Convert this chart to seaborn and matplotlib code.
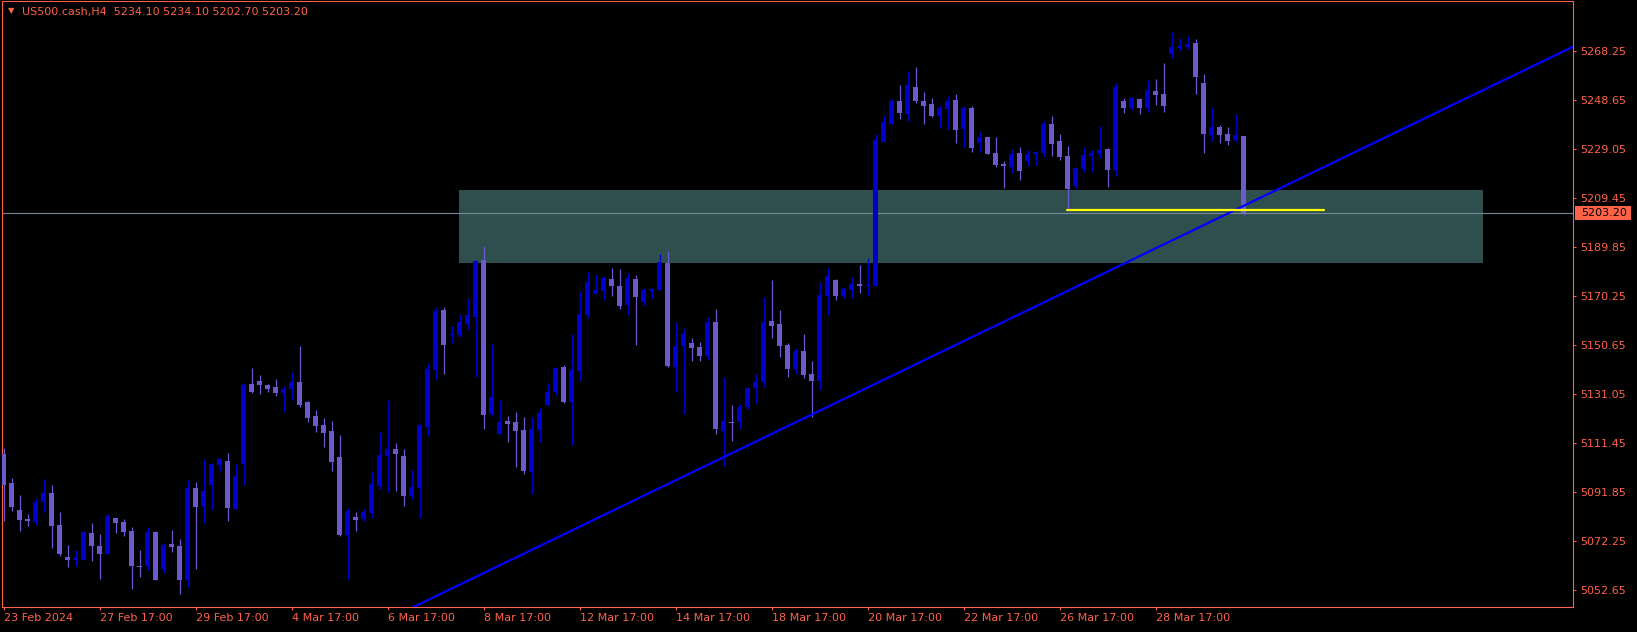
import numpy as np
import pandas as pd
import seaborn as sns
import matplotlib.pyplot as plt
from matplotlib.patches import Rectangle

# H4 candles, bar index 0 = first bar on the chart
opens = [5106.9, 5095.3, 5084.5, 5080.9, 5079.9, 5087.8, 5091.3, 5078.5, 5065.7, 5064.7,
         5064.7, 5075.3, 5070.1, 5067.0, 5081.3, 5079.7, 5076.1, 5062.3, 5062.3, 5075.7,
         5061.1, 5070.9, 5070.1, 5056.7, 5093.3, 5086.3, 5094.5, 5102.5, 5104.1, 5084.9,
         5103.1, 5134.9, 5136.1, 5134.5, 5133.7, 5131.3, 5132.9, 5135.7, 5127.7, 5122.1,
         5118.5, 5116.1, 5105.7, 5074.5, 5081.7, 5080.9, 5083.5, 5094.3, 5106.3, 5108.8,
         5106.1, 5090.3, 5093.5, 5117.9, 5140.7, 5164.5, 5154.4, 5154.7, 5159.1, 5161.9,
         5184.4, 5123.0, 5115.1, 5120.1, 5119.7, 5116.5, 5099.9, 5116.7, 5126.5, 5131.9,
         5141.7, 5127.9, 5140.3, 5162.7, 5171.1, 5172.3, 5176.9, 5174.1, 5166.7, 5176.9,
         5167.9, 5172.1, 5172.7, 5183.3, 5141.7, 5150.1, 5151.3, 5149.7, 5146.1, 5159.7,
         5116.1, 5119.9, 5119.9, 5125.7, 5133.5, 5135.9, 5160.1, 5158.9, 5150.5, 5141.1,
         5148.1, 5138.9, 5136.3, 5170.3, 5176.5, 5170.3, 5172.7, 5174.9, 5174.3, 5174.3,
         5231.7, 5238.9, 5248.1, 5243.1, 5253.7, 5248.1, 5246.9, 5242.1, 5244.9, 5248.5,
         5236.9, 5245.3, 5231.3, 5233.7, 5227.3, 5222.9, 5221.7, 5227.3, 5224.1, 5227.1,
         5227.3, 5238.9, 5232.1, 5226.1, 5214.1, 5221.1, 5226.3, 5226.9, 5228.9, 5220.5,
         5248.1, 5245.3, 5248.9, 5245.3, 5252.1, 5250.9, 5266.9, 5269.3, 5269.9, 5271.3,
         5255.3, 5234.5, 5237.7, 5234.9, 5232.5, 5234.1]
highs = [5109.2, 5097.3, 5090.5, 5083.0, 5089.3, 5096.9, 5094.5, 5083.7, 5070.5, 5068.5,
         5076.1, 5079.3, 5074.9, 5082.9, 5081.3, 5080.9, 5077.7, 5068.5, 5077.7, 5076.1,
         5071.3, 5076.5, 5072.9, 5096.5, 5095.7, 5104.9, 5103.2, 5105.3, 5107.3, 5102.9,
         5135.3, 5141.3, 5138.5, 5134.9, 5136.9, 5134.1, 5139.7, 5150.1, 5128.1, 5124.5,
         5121.3, 5120.1, 5114.5, 5085.3, 5083.7, 5084.9, 5099.7, 5115.8, 5128.5, 5111.3,
         5108.9, 5100.5, 5118.9, 5143.5, 5165.7, 5165.7, 5158.0, 5162.8, 5169.3, 5184.5,
         5190.0, 5150.9, 5128.5, 5122.1, 5123.7, 5121.7, 5121.7, 5125.3, 5135.3, 5141.9,
         5142.5, 5154.9, 5172.0, 5179.7, 5178.5, 5178.1, 5181.3, 5180.9, 5179.3, 5178.5,
         5173.3, 5173.3, 5187.0, 5188.0, 5159.7, 5157.3, 5153.3, 5151.7, 5161.7, 5164.9,
         5137.7, 5126.5, 5127.1, 5133.9, 5138.9, 5169.7, 5176.5, 5164.5, 5151.3, 5149.3,
         5154.9, 5144.1, 5175.7, 5181.3, 5176.9, 5173.7, 5177.7, 5182.5, 5185.3, 5234.9,
         5242.5, 5248.9, 5254.5, 5260.1, 5261.7, 5251.7, 5249.3, 5246.5, 5250.1, 5250.9,
         5246.1, 5246.1, 5235.7, 5233.7, 5233.7, 5224.1, 5228.5, 5229.7, 5228.5, 5228.1,
         5240.1, 5242.1, 5234.9, 5230.1, 5221.3, 5229.7, 5228.5, 5238.1, 5229.3, 5255.3,
         5249.3, 5249.7, 5249.3, 5256.5, 5256.9, 5263.3, 5275.7, 5273.3, 5274.1, 5272.9,
         5258.9, 5245.7, 5238.5, 5237.7, 5242.9, 5234.1]
lows = [5080.3, 5084.3, 5076.3, 5078.3, 5078.7, 5083.9, 5069.5, 5066.3, 5061.9, 5062.3,
        5064.5, 5064.3, 5057.1, 5066.8, 5075.5, 5074.3, 5053.1, 5057.9, 5060.7, 5056.7,
        5059.5, 5067.9, 5051.1, 5053.9, 5061.1, 5079.5, 5084.5, 5100.3, 5080.1, 5084.9,
        5094.5, 5131.3, 5131.1, 5131.7, 5130.1, 5123.7, 5128.5, 5125.7, 5119.7, 5115.7,
        5109.7, 5100.1, 5074.1, 5057.0, 5076.3, 5080.1, 5081.3, 5092.9, 5091.6, 5092.3,
        5086.3, 5088.9, 5081.5, 5114.3, 5136.8, 5139.1, 5151.5, 5153.6, 5157.0, 5137.9,
        5116.9, 5122.3, 5115.1, 5111.7, 5101.7, 5098.9, 5091.1, 5111.9, 5126.3, 5130.7,
        5127.5, 5110.7, 5136.3, 5161.5, 5171.1, 5168.7, 5170.3, 5165.1, 5162.7, 5150.7,
        5166.7, 5169.1, 5172.7, 5141.7, 5131.7, 5122.9, 5144.1, 5144.1, 5144.5, 5115.1,
        5102.0, 5112.0, 5116.9, 5124.9, 5127.3, 5133.9, 5153.5, 5145.9, 5137.9, 5139.1,
        5137.5, 5121.9, 5132.7, 5162.5, 5168.7, 5169.5, 5169.5, 5171.5, 5170.3, 5174.3,
        5231.7, 5238.9, 5240.9, 5240.1, 5247.3, 5238.9, 5241.7, 5237.3, 5236.9, 5231.3,
        5229.7, 5227.7, 5227.7, 5226.9, 5221.7, 5213.3, 5219.3, 5216.5, 5222.1, 5222.5,
        5225.7, 5226.1, 5224.5, 5204.5, 5213.3, 5219.7, 5219.7, 5225.3, 5213.7, 5218.1,
        5243.3, 5244.5, 5242.9, 5243.7, 5246.5, 5243.7, 5265.3, 5268.1, 5268.9, 5250.9,
        5227.3, 5232.1, 5231.3, 5230.5, 5231.7, 5202.7]
closes = [5094.7, 5085.9, 5080.7, 5080.3, 5087.7, 5091.3, 5078.3, 5067.0, 5064.7, 5065.3,
          5075.7, 5070.3, 5067.0, 5082.1, 5079.5, 5075.9, 5062.3, 5061.9, 5075.7, 5056.7,
          5070.5, 5069.9, 5056.7, 5093.3, 5085.9, 5092.0, 5102.9, 5104.8, 5085.5, 5098.1,
          5134.4, 5131.9, 5134.5, 5132.9, 5131.3, 5132.9, 5135.7, 5126.5, 5121.3, 5118.1,
          5115.3, 5103.7, 5074.5, 5084.1, 5080.7, 5083.7, 5094.9, 5106.5, 5108.8, 5107.1,
          5090.3, 5093.6, 5118.5, 5140.9, 5164.1, 5150.7, 5154.6, 5159.7, 5162.4, 5184.1,
          5122.7, 5129.7, 5119.7, 5119.1, 5116.1, 5100.1, 5116.9, 5123.3, 5131.7, 5141.3,
          5127.9, 5140.5, 5162.9, 5175.7, 5172.5, 5177.3, 5174.3, 5166.3, 5177.3, 5169.9,
          5172.5, 5172.9, 5183.7, 5142.1, 5150.1, 5154.9, 5149.3, 5146.1, 5159.7, 5117.1,
          5120.1, 5119.3, 5125.7, 5133.5, 5135.9, 5159.7, 5158.3, 5150.3, 5141.1, 5148.1,
          5138.7, 5136.3, 5170.5, 5178.1, 5170.3, 5172.9, 5174.9, 5174.3, 5174.5, 5232.5,
          5239.7, 5248.1, 5243.3, 5254.5, 5248.1, 5246.1, 5242.1, 5245.3, 5248.1, 5236.5,
          5245.3, 5229.3, 5233.7, 5226.9, 5222.5, 5222.1, 5226.9, 5220.1, 5226.9, 5227.7,
          5238.9, 5230.9, 5225.7, 5212.9, 5221.2, 5226.5, 5227.3, 5228.5, 5220.5, 5253.7,
          5245.3, 5249.3, 5245.3, 5252.5, 5250.5, 5246.1, 5269.7, 5270.1, 5270.9, 5257.7,
          5234.9, 5237.7, 5234.5, 5232.1, 5234.5, 5203.2]

date_labels = ["23 Feb 2024", "27 Feb 17:00", "29 Feb 17:00", "4 Mar 17:00", "6 Mar 17:00",
               "8 Mar 17:00", "12 Mar 17:00", "14 Mar 17:00", "18 Mar 17:00", "20 Mar 17:00",
               "22 Mar 17:00", "26 Mar 17:00", "28 Mar 17:00"]
date_ticks = [0, 12, 24, 36, 48, 60, 72, 84, 96, 108, 120, 132, 144]
price_ticks = [5052.65, 5072.25, 5091.85, 5111.45, 5131.05, 5150.65, 5170.25,
               5189.85, 5209.45, 5229.05, 5248.65, 5268.25]
last_price = 5203.20
title = "US500.cash,H4  5234.10 5234.10 5202.70 5203.20"

zone_bars = [56.9, 184.9]
zone_prices = [5183.4, 5212.5]
trend_bars = [101, 155]
trend_prices = [5122.7, 5206.2]
level_bars = [132.9, 165]
level_price = 5204.6

ORANGE = "#ff6347"
BULL = "#0000cd"
BEAR = "#6a5acd"

sns.set_style("dark", {"axes.facecolor": "black", "figure.facecolor": "black",
                       "axes.edgecolor": ORANGE, "axes.grid": False})
plt.rcParams['font.family'] = ['DejaVu Sans']

W, H = 1637, 632
fig = plt.figure(figsize=(W / 100, H / 100), dpi=100)
ax = fig.add_axes([2 / W, 25 / H, 1571 / W, 606 / H])

df = pd.DataFrame({"o": opens, "h": highs, "l": lows, "c": closes})
df["x"] = np.arange(len(df))
df["up"] = df["c"] > df["o"]
df["col"] = np.where(df["up"], BULL, BEAR)

# support zone
ax.add_patch(Rectangle((zone_bars[0], zone_prices[0]), zone_bars[1] - zone_bars[0],
                       zone_prices[1] - zone_prices[0], color="#2f4f4f", lw=0, zorder=0))

# current price line
ax.axhline(last_price, color="#778899", lw=0.8, zorder=1)

# candles
ax.vlines(df["x"], df["l"], df["h"], colors=df["col"], lw=0.9, zorder=2)
body_lo = np.minimum(df["o"], df["c"])
body_h = np.maximum((df["c"] - df["o"]).abs(), 0.4)
ax.bar(df["x"], body_h, bottom=body_lo, width=0.62, color=df["col"], lw=0, zorder=3)

# trend line and level
ax.axline((trend_bars[0], trend_prices[0]), (trend_bars[1], trend_prices[1]),
          color="#0000ff", lw=1.6, zorder=4)
sns.lineplot(x=level_bars, y=[level_price, level_price], color="#ffff00", lw=1.6,
             ax=ax, zorder=4)

ax.set_xlim(-0.21, 196.16)
ax.set_ylim(5045.72, 5288.12)

ax.yaxis.tick_right()
ax.set_yticks(price_ticks)
ax.set_yticklabels([f"{p:.2f}" for p in price_ticks])
ax.set_xticks(date_ticks)
ax.set_xticklabels(date_labels, ha="left")
ax.tick_params(axis="y", colors=ORANGE, labelsize=8, length=2.5, width=0.7, pad=3,
               right=True, left=False)
ax.tick_params(axis="x", colors=ORANGE, labelsize=8, length=2.5, width=0.7, pad=1.5,
               bottom=True)
for s in ax.spines.values():
    s.set_color(ORANGE)
    s.set_linewidth(0.8)

# last price marker on the axis
y_px = 1 + (5288.12 - last_price) / (5288.12 - 5045.72) * 606
fig.patches.append(Rectangle((1575 / W, 1 - (y_px + 7) / H), 56 / W, 14 / H,
                             transform=fig.transFigure, color=ORANGE, lw=0))
fig.text(1581 / W, 1 - y_px / H, f"{last_price:.2f}", color="black", fontsize=8,
         va="center", ha="left")

# header
fig.text(11 / W, 1 - 11 / H, "\u25bc", color=ORANGE, fontsize=6, ha="center", va="center")
fig.text(22 / W, 1 - 12.5 / H, title, color=ORANGE, fontsize=8, va="center", ha="left")

fig.savefig("out.png", dpi=100, facecolor="black")
